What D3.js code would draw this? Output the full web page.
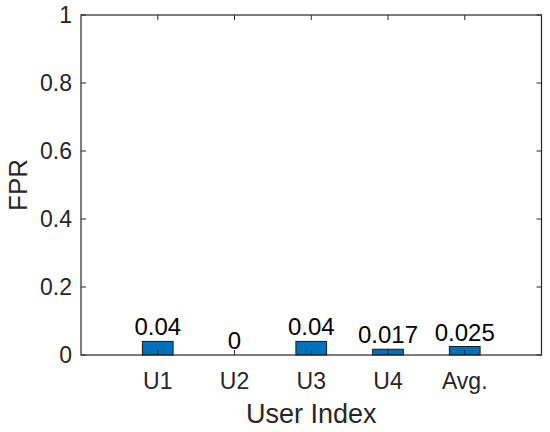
<!DOCTYPE html>
<html>
<head>
<meta charset="utf-8">
<script src="https://cdn.jsdelivr.net/npm/d3@7"></script>
<style>
  body { margin: 0; background: #fff; }
  svg { display: block; font-family: "Liberation Sans", Arial, sans-serif; }
</style>
</head>
<body>
<svg id="chart" width="550" height="432"></svg>
<script>
var categories = ["U1", "U2", "U3", "U4", "Avg."];
var fprValues = [0.04, 0, 0.04, 0.017, 0.025];
var barLabels = ["0.04", "0", "0.04", "0.017", "0.025"];
var yTicks = [0, 0.2, 0.4, 0.6, 0.8, 1];
var yTickLabels = ["0", "0.2", "0.4", "0.6", "0.8", "1"];

var margin = { top: 15, right: 8.5, bottom: 77, left: 81 },
    width = 550 - margin.left - margin.right,
    height = 432 - margin.top - margin.bottom;

var svg = d3.select("#chart");
var g = svg.append("g").attr("transform", "translate(" + margin.left + "," + margin.top + ")");

var x = d3.scaleLinear().domain([0, categories.length + 1]).range([0, width]);
var y = d3.scaleLinear().domain([0, 1]).range([height, 0]);
var barW = x(0.4) - x(0);
var axisColor = "#262626";
var tickLen = 5;

// bars
g.selectAll("rect.bar")
    .data(fprValues)
    .join("rect")
    .attr("class", "bar")
    .attr("x", function (d, i) { return x(i + 1) - barW / 2; })
    .attr("y", function (d) { return y(d); })
    .attr("width", barW)
    .attr("height", function (d) { return y(0) - y(d); })
    .attr("fill", "#0072BD")
    .attr("stroke", "#1a1a1a")
    .attr("stroke-width", 1);

// value labels
g.selectAll("text.val")
    .data(fprValues)
    .join("text")
    .attr("class", "val")
    .attr("x", function (d, i) { return x(i + 1); })
    .attr("y", function (d) { return y(d) - 6; })
    .attr("text-anchor", "middle")
    .attr("font-size", "24px")
    .attr("fill", "#000")
    .text(function (d, i) { return barLabels[i]; });

// box
g.append("rect")
    .attr("x", 0).attr("y", 0)
    .attr("width", width).attr("height", height)
    .attr("fill", "none")
    .attr("stroke", axisColor)
    .attr("stroke-width", 1.2);

// x ticks (inside, bottom and top)
var xIdx = d3.range(1, categories.length + 1);
g.selectAll("line.xt")
    .data(xIdx)
    .join("line")
    .attr("x1", function (d) { return x(d); })
    .attr("x2", function (d) { return x(d); })
    .attr("y1", height).attr("y2", height - tickLen)
    .attr("stroke", axisColor);
g.selectAll("line.xtt")
    .data(xIdx)
    .join("line")
    .attr("x1", function (d) { return x(d); })
    .attr("x2", function (d) { return x(d); })
    .attr("y1", 0).attr("y2", tickLen)
    .attr("stroke", axisColor);

g.selectAll("text.xl")
    .data(categories)
    .join("text")
    .attr("class", "xl")
    .attr("x", function (d, i) { return x(i + 1); })
    .attr("y", height + 34)
    .attr("text-anchor", "middle")
    .attr("font-size", "23px")
    .attr("fill", axisColor)
    .text(function (d) { return d; });

// y ticks (inside, left and right)
g.selectAll("line.yt")
    .data(yTicks)
    .join("line")
    .attr("x1", 0).attr("x2", tickLen)
    .attr("y1", function (d) { return y(d); })
    .attr("y2", function (d) { return y(d); })
    .attr("stroke", axisColor);
g.selectAll("line.ytr")
    .data(yTicks)
    .join("line")
    .attr("x1", width).attr("x2", width - tickLen)
    .attr("y1", function (d) { return y(d); })
    .attr("y2", function (d) { return y(d); })
    .attr("stroke", axisColor);

g.selectAll("text.yl")
    .data(yTicks)
    .join("text")
    .attr("class", "yl")
    .attr("x", -9)
    .attr("y", function (d) { return y(d); })
    .attr("dy", "0.36em")
    .attr("text-anchor", "end")
    .attr("font-size", "23px")
    .attr("fill", axisColor)
    .text(function (d, i) { return yTickLabels[i]; });

// axis titles
g.append("text")
    .attr("x", width / 2)
    .attr("y", height + 68)
    .attr("text-anchor", "middle")
    .attr("font-size", "27px")
    .attr("fill", axisColor)
    .text("User Index");

g.append("text")
    .attr("transform", "translate(" + (-54) + "," + (height / 2) + ") rotate(-90)")
    .attr("text-anchor", "middle")
    .attr("font-size", "26px")
    .attr("fill", axisColor)
    .text("FPR");
</script>
</body>
</html>
